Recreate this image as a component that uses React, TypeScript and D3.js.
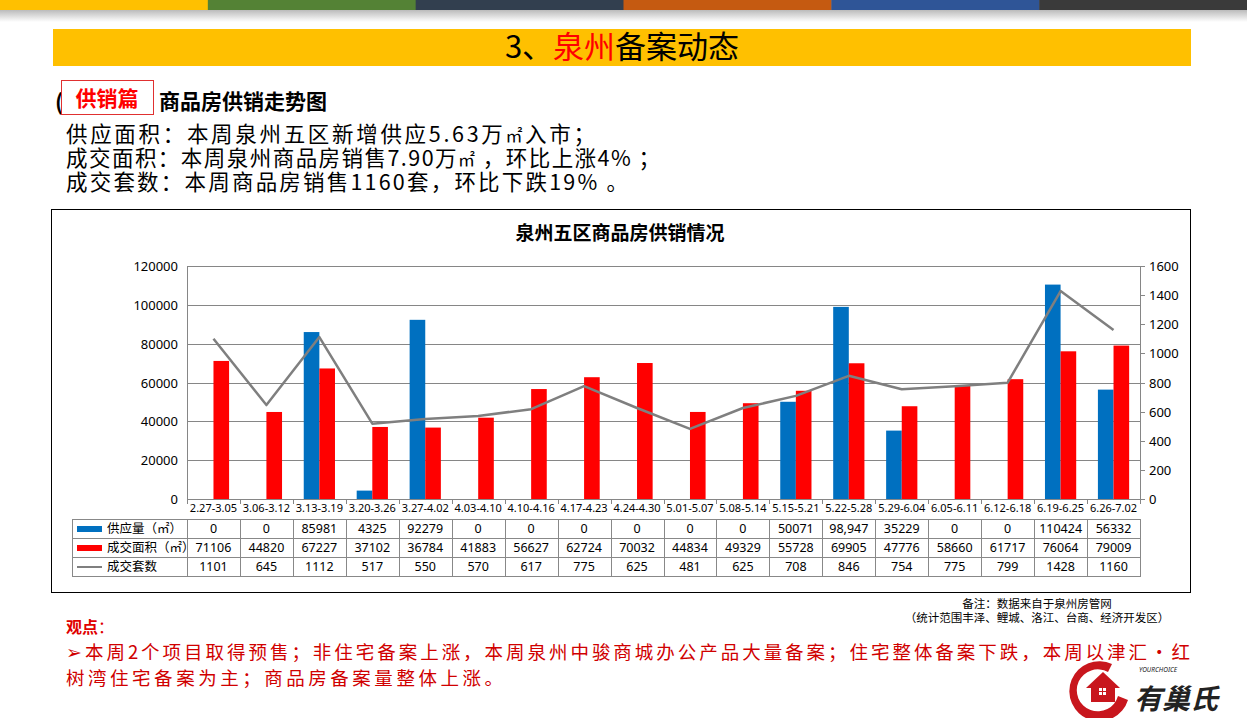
import React from "react";
import * as d3 from "d3";

const categories = ["2.27-3.05","3.06-3.12","3.13-3.19","3.20-3.26","3.27-4.02","4.03-4.10","4.10-4.16","4.17-4.23","4.24-4.30","5.01-5.07","5.08-5.14","5.15-5.21","5.22-5.28","5.29-6.04","6.05-6.11","6.12-6.18","6.19-6.25","6.26-7.02"];
const supply = [0,0,85981,4325,92279,0,0,0,0,0,0,50071,98947,35229,0,0,110424,56332];
const supplyLabels = ["0","0","85981","4325","92279","0","0","0","0","0","0","50071","98,947","35229","0","0","110424","56332"];
const dealArea = [71106,44820,67227,37102,36784,41883,56627,62724,70032,44834,49329,55728,69905,47776,58660,61717,76064,79009];
const dealUnits = [1101,645,1112,517,550,570,617,775,625,481,625,708,846,754,775,799,1428,1160];
const leftTicks = [0,20000,40000,60000,80000,100000,120000];
const rightTicks = [0,200,400,600,800,1000,1200,1400,1600];
const seriesNames = ["供应量（㎡）","成交面积（㎡）","成交套数"];
const headerColors = ["#FFC000","#548235","#323F4F","#C55A11","#2F5597","#3A3A3A"];

const CJK = "'Noto Sans CJK SC', 'Noto Sans', sans-serif";
const NUM = "'Noto Sans', 'Noto Sans CJK SC', sans-serif";

export default function App() {
  const W = 1247, H = 718;
  const x = d3.scaleBand<string>().domain(categories).range([187, 1140]);
  const bw = x.bandwidth();
  const yL = d3.scaleLinear().domain([0, 120000]).range([499, 266]);
  const yR = d3.scaleLinear().domain([0, 1600]).range([499, 266]);
  const barW = bw * 0.295;
  const line = d3.line<number>()
    .x((_, i) => (x(categories[i]) as number) + bw / 2)
    .y((d) => yR(d));
  const rows = [519, 538, 557, 576];
  const stripW = W / headerColors.length;

  return (
    <svg width={W} height={H} style={{ position: "absolute", left: 0, top: 0, background: "#fff" }}>
      <defs>
        <linearGradient id="shadow" x1="0" y1="0" x2="0" y2="1">
          <stop offset="0" stopColor="#bbbbbb" />
          <stop offset="1" stopColor="#ffffff" />
        </linearGradient>
      </defs>
      {headerColors.map((c, i) => (
        <rect key={c} x={i * stripW} y={0} width={stripW + 0.5} height={10} fill={c} />
      ))}
      <rect x={0} y={10} width={W} height={12} fill="url(#shadow)" />
      {/* Title bar */}
      <rect x={53} y={29} width={1138} height={37} fill="#FFC000" />
      <text x={622} y={58} textAnchor="middle" fontFamily={CJK} fontSize={31} fill="#000">
        3、<tspan fill="#FF0000">泉州</tspan>备案动态
      </text>
      {/* Section label */}
      <text x={55} y={110} fontFamily={CJK} fontSize={22} fontWeight="bold" fill="#000">(</text>
      <rect x={61.5} y={80.5} width={92} height={34} fill="#fff" stroke="#E03030" strokeWidth={1} />
      <text x={107} y={106} textAnchor="middle" fontFamily={CJK} fontSize={21} fontWeight="bold" fill="#FF0000">供销篇</text>
      <text x={159} y={109} fontFamily={CJK} fontSize={21} fontWeight="bold" fill="#000">商品房供销走势图</text>
      <g fontFamily={CJK} fontSize={21.5} fill="#000">
        <text x={66} y={142} textLength={529} lengthAdjust="spacing">供应面积：本周泉州五区新增供应5.63万<tspan fontSize={17}>㎡</tspan>入市；</text>
        <text x={66} y={166} textLength={594} lengthAdjust="spacing">成交面积：本周泉州商品房销售7.90万<tspan fontSize={17}>㎡</tspan> ，环比上涨4% ；</text>
        <text x={66} y={190} textLength={562} lengthAdjust="spacing">成交套数：本周商品房销售1160套，环比下跌19% 。</text>
      </g>
      {/* Chart frame */}
      <rect x={51.5} y={209.5} width={1139} height={383} fill="#fff" stroke="#000" strokeWidth={1} />
      <text x={620} y={240} textAnchor="middle" fontFamily={CJK} fontSize={19} fontWeight="bold" fill="#000">泉州五区商品房供销情况</text>
      {/* gridlines */}
      {leftTicks.filter((t) => t > 0).map((t) => (
        <line key={t} x1={187} x2={1140} y1={Math.round(yL(t)) + 0.5} y2={Math.round(yL(t)) + 0.5} stroke="#868686" strokeWidth={1} />
      ))}
      {/* left axis labels */}
      {leftTicks.map((t) => (
        <text key={t} x={178} y={yL(t) + 5} textAnchor="end" fontFamily={NUM} fontSize={13} fill="#000">{t}</text>
      ))}
      <line x1={187.5} x2={187.5} y1={266} y2={499} stroke="#868686" />
      {/* right axis */}
      <line x1={1140.5} x2={1140.5} y1={266} y2={499} stroke="#868686" />
      {rightTicks.map((t) => (
        <g key={t}>
          <line x1={1140} x2={1145} y1={Math.round(yR(t)) + 0.5} y2={Math.round(yR(t)) + 0.5} stroke="#868686" />
          <text x={1149} y={yR(t) + 5} fontFamily={NUM} fontSize={13} fill="#000">{t}</text>
        </g>
      ))}
      {/* bars */}
      {categories.map((c, i) => {
        const cx = (x(c) as number) + bw / 2;
        return (
          <g key={c}>
            {supply[i] > 0 && (
              <rect x={cx - barW} y={yL(supply[i])} width={barW} height={499 - yL(supply[i])} fill="#0070C0" />
            )}
            <rect x={cx} y={yL(dealArea[i])} width={barW} height={499 - yL(dealArea[i])} fill="#FF0000" />
          </g>
        );
      })}
      {/* line */}
      <path d={line(dealUnits) || ""} fill="none" stroke="#7F7F7F" strokeWidth={2.5} strokeLinejoin="round" />
      {/* x axis */}
      <line x1={187} x2={1140} y1={499.5} y2={499.5} stroke="#868686" />
      {categories.map((c) => (
        <line key={"t" + c} x1={Math.round(x(c) as number) + 0.5} x2={Math.round(x(c) as number) + 0.5} y1={499} y2={504} stroke="#868686" />
      ))}
      <line x1={1140.5} x2={1140.5} y1={499} y2={504} stroke="#868686" />
      {categories.map((c) => (
        <text key={"l" + c} x={(x(c) as number) + bw / 2} y={512} textAnchor="middle" fontFamily={NUM} fontSize={11} fill="#000">{c}</text>
      ))}
      {/* data table */}
      <g stroke="#888" strokeWidth={1}>
        {rows.map((r) => (
          <line key={r} x1={72} x2={1141} y1={r + 0.5} y2={r + 0.5} />
        ))}
        <line x1={72.5} x2={72.5} y1={519} y2={577} />
        {categories.map((c) => (
          <line key={"v" + c} x1={Math.round(x(c) as number) + 0.5} x2={Math.round(x(c) as number) + 0.5} y1={519} y2={577} />
        ))}
        <line x1={1140.5} x2={1140.5} y1={519} y2={577} />
      </g>
      <rect x={77} y={526} width={25} height={6} fill="#0070C0" />
      <rect x={77} y={545} width={25} height={6} fill="#FF0000" />
      <line x1={77} x2={102} y1={567} y2={567} stroke="#7F7F7F" strokeWidth={2} />
      {seriesNames.map((s, k) => (
        <text key={s} x={107} y={rows[k] + 14} fontFamily={CJK} fontSize={12.5} fill="#000">{s}</text>
      ))}
      {categories.map((c, i) => {
        const cx = (x(c) as number) + bw / 2;
        return (
          <g key={"d" + c} fontFamily={NUM} fontSize={12.5} fill="#000" textAnchor="middle">
            <text x={cx} y={533}>{supplyLabels[i]}</text>
            <text x={cx} y={552}>{dealArea[i]}</text>
            <text x={cx} y={571}>{dealUnits[i]}</text>
          </g>
        );
      })}
      {/* notes */}
      <text x={1037} y={608} textAnchor="middle" fontFamily={CJK} fontSize={11.5} fill="#000">备注：数据来自于泉州房管网</text>
      <text x={1037} y={622} textAnchor="middle" fontFamily={CJK} fontSize={11.5} fill="#000">（统计范围丰泽、鲤城、洛江、台商、经济开发区）</text>
      <text x={66} y={633} fontFamily={CJK} fontSize={16} fontWeight="bold" fill="#E00000">观点<tspan fontWeight="normal">：</tspan></text>
      <g fontFamily={CJK} fontSize={18.5} fill="#D00000">
        <text x={66} y={659} textLength={1124} lengthAdjust="spacing">➢本周2个项目取得预售；非住宅备案上涨，本周泉州中骏商城办公产品大量备案；住宅整体备案下跌，本周以津汇·红</text>
        <text x={66} y={684.5} textLength={437} lengthAdjust="spacing">树湾住宅备案为主；商品房备案量整体上涨。</text>
      </g>
      {/* logo */}
      <g>
        <path d="M1112,664 A30,30 0 1,0 1128,700 L1118,696 A21,21 0 1,1 1108,672 Z" fill="#C8161D" />
        <path d="M1086,688 L1103,672 L1120,688 L1115,688 L1115,702 L1091,702 L1091,688 Z" fill="#C8161D" />
        <rect x={1099} y={688} width={3} height={3} fill="#fff" />
        <rect x={1103} y={688} width={3} height={3} fill="#fff" />
        <rect x={1099} y={692} width={3} height={3} fill="#fff" />
        <rect x={1103} y={692} width={3} height={3} fill="#fff" />
        <text x={1139} y={672} fontFamily={NUM} fontSize={6.5} fontStyle="italic" fill="#222">YOURCHOICE</text>
        <text x={1134} y={709} fontFamily={CJK} fontSize={28} fontWeight="bold" fontStyle="italic" fill="#222">有巢氏</text>
      </g>
    </svg>
  );
}
